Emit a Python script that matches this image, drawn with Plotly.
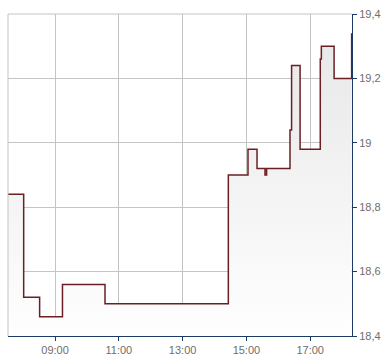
import plotly.graph_objects as go

day = "2024-01-01 "
times = ["07:31:30", "08:01", "08:31", "09:14", "10:34", "14:26", "15:03", "15:20",
         "15:35", "15:38", "16:22", "16:25", "16:41", "17:19", "17:21", "17:45", "18:18"]
prices = [18.84, 18.52, 18.46, 18.56, 18.50, 18.90, 18.98, 18.92,
          18.90, 18.92, 19.04, 19.24, 18.98, 19.26, 19.30, 19.20, 19.34]
x_range = ["07:31:30", "18:18:40"]
y_range = [18.4, 19.4]
x_tick0 = "09:00"

xs = [day + t for t in times]

AXIS = "#1b3a66"
GRID = "#c4c4c4"
TXT = "#6e6e6e"

fig = go.Figure()
fig.add_trace(go.Scatter(
    x=xs, y=prices, mode="lines",
    line=dict(color="#6b1f24", width=1.5, shape="hv"),
    fill="tozeroy",
    fillgradient=dict(type="vertical",
                      colorscale=[[0, "#ffffff"], [1, "#e6e6e6"]],
                      start=y_range[0], stop=y_range[1]),
    hoverinfo="skip", showlegend=False,
))

fig.update_layout(
    width=390, height=364,
    margin=dict(l=8, r=38, t=11, b=24),
    paper_bgcolor="white", plot_bgcolor="white",
    separators=",.",
    font=dict(family="Liberation Sans, Arial, sans-serif", size=11, color=TXT),
    shapes=[
        dict(type="line", xref="paper", yref="paper", x0=0, x1=1, y0=1, y1=1,
             line=dict(color=GRID, width=1)),
        dict(type="line", xref="paper", yref="paper", x0=0, x1=0, y0=0, y1=1,
             line=dict(color=GRID, width=1)),
    ],
)
fig.update_xaxes(
    type="date", range=[day + x_range[0], day + x_range[1]],
    tick0=day + x_tick0, dtick=2 * 3600 * 1000, tickformat="%H:%M",
    showgrid=True, gridcolor=GRID, gridwidth=1,
    showline=True, linecolor=AXIS, linewidth=1,
    ticks="outside", ticklen=4, tickcolor=AXIS,
    zeroline=False, fixedrange=True,
)
fig.update_yaxes(
    side="right", range=y_range, dtick=0.2, tick0=18.4,
    showgrid=True, gridcolor=GRID, gridwidth=1,
    showline=True, linecolor=AXIS, linewidth=1,
    ticks="outside", ticklen=4, tickcolor=AXIS,
    zeroline=False, fixedrange=True,
)

fig.write_html("out.html")
